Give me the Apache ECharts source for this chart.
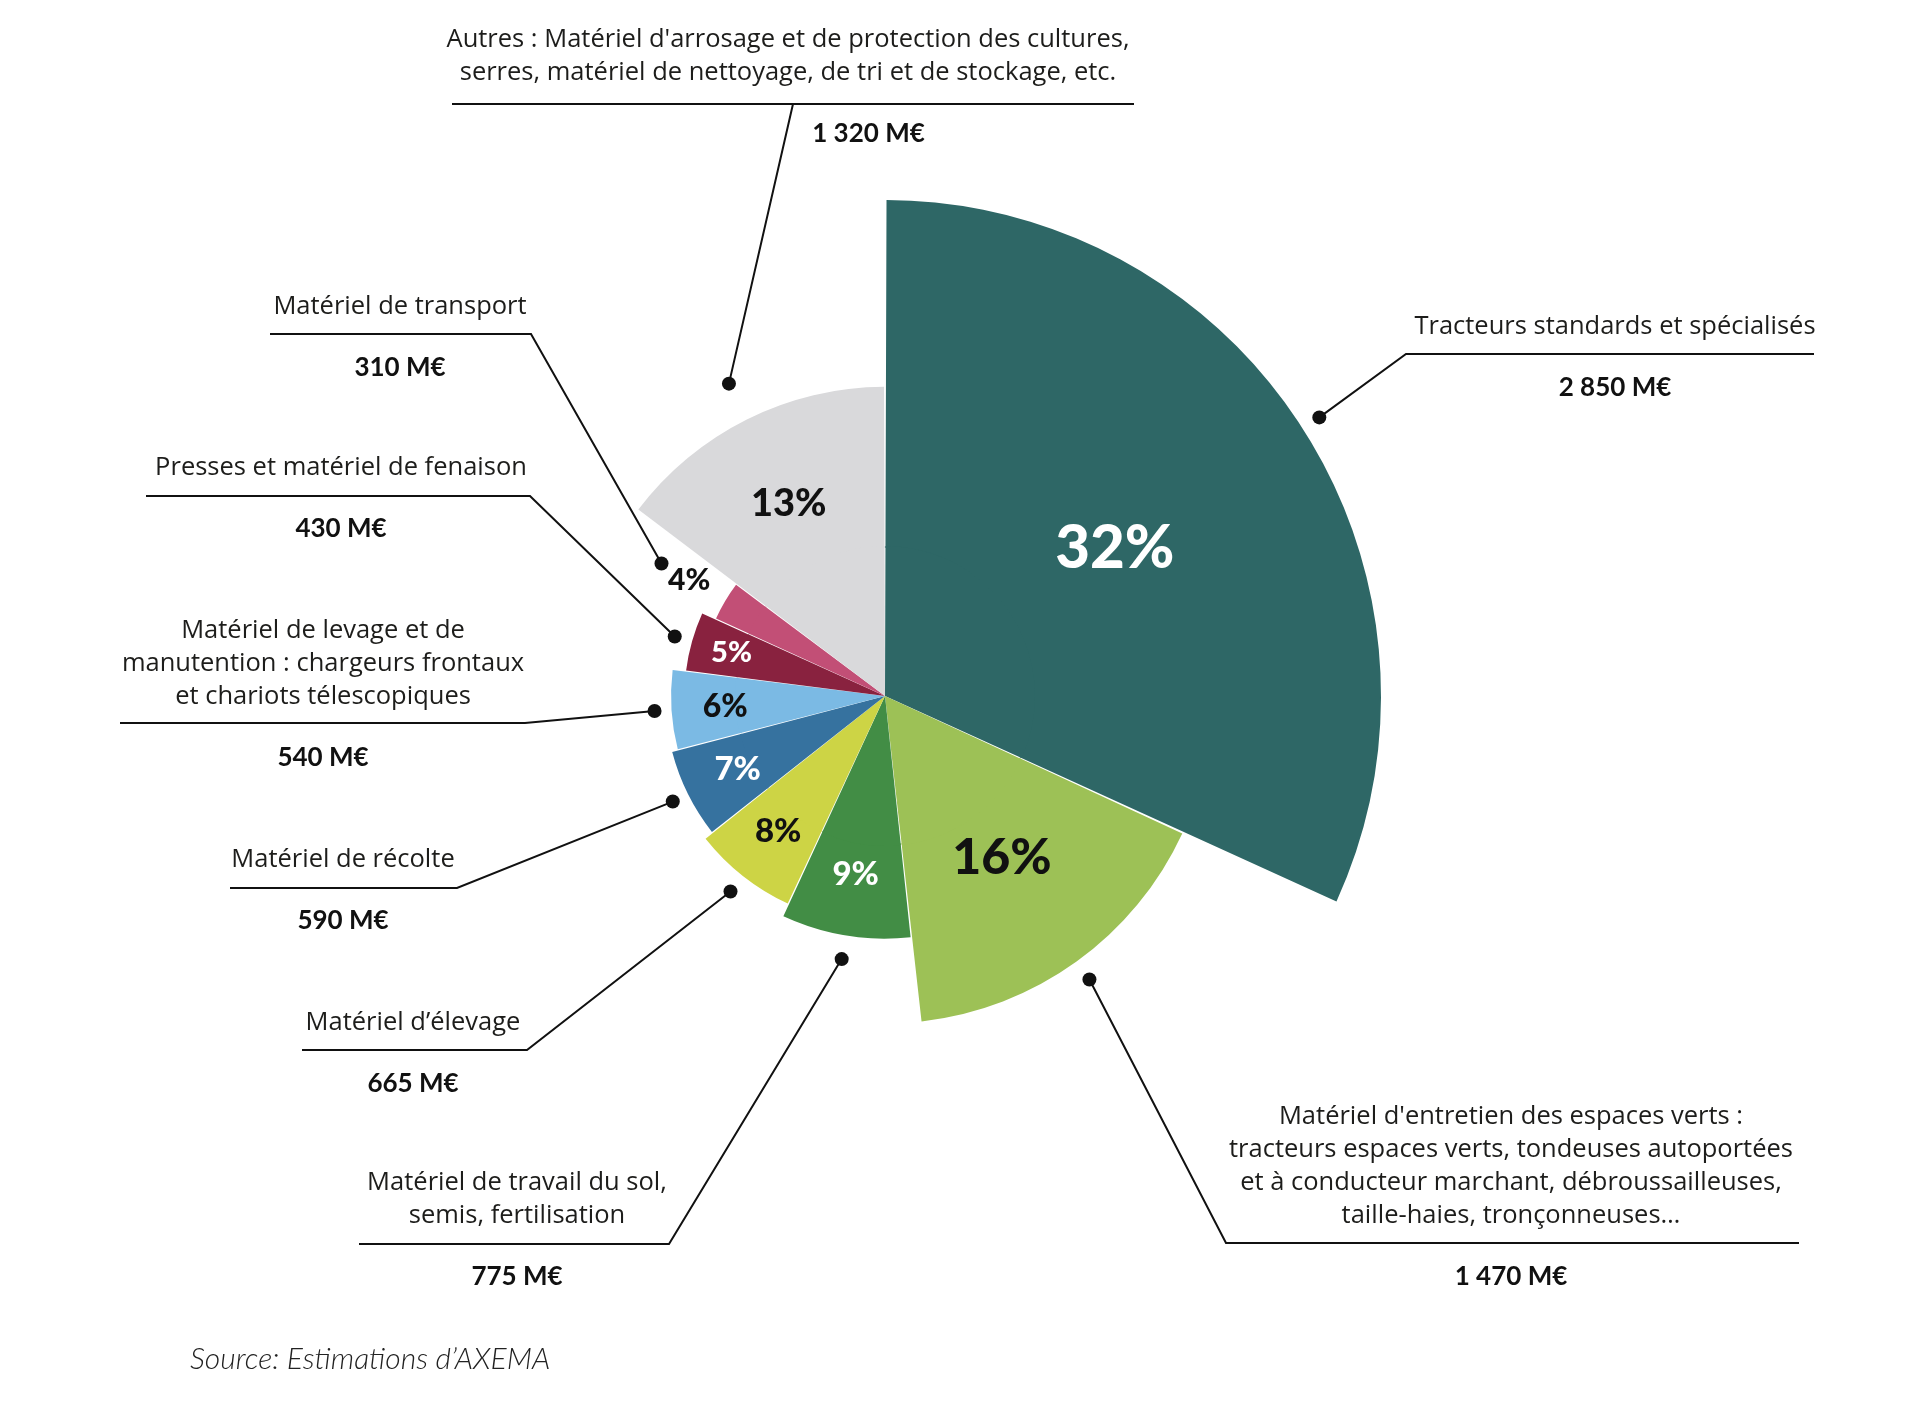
<!DOCTYPE html>
<html>
<head>
<meta charset="utf-8">
<title>Marché du machinisme agricole</title>
<script src="https://cdn.jsdelivr.net/npm/echarts@6/dist/echarts.min.js"></script>
<style>
html, body { margin: 0; padding: 0; background: #fff; }
#chart { width: 1918px; height: 1404px; }
</style>
</head>
<body>
<div id="chart"></div>
<script>
// segments clockwise from 12 o'clock, one entry per line of the caption
var categories = [
    ['Tracteurs standards et spécialisés'],
    ["Matériel d'entretien des espaces verts :", 'tracteurs espaces verts, tondeuses autoportées', 'et à conducteur marchant, débroussailleuses,', 'taille-haies, tronçonneuses…'],
    ['Matériel de travail du sol,', 'semis, fertilisation'],
    ['Matériel d’élevage'],
    ['Matériel de récolte'],
    ['Matériel de levage et de', 'manutention : chargeurs frontaux', 'et chariots télescopiques'],
    ['Presses et matériel de fenaison'],
    ['Matériel de transport'],
    ["Autres : Matériel d'arrosage et de protection des cultures,", 'serres, matériel de nettoyage, de tri et de stockage, etc.']
];
var values = [2850, 1470, 775, 665, 590, 540, 430, 310, 1320];   // M€
var shares = [32, 16, 9, 8, 7, 6, 5, 4, 13];                       // % as printed

// styling
var colors = ['#2e6766', '#9dc156', '#428d45', '#cdd445', '#36729f', '#7bbae4', '#89223f', '#c24f76', '#d9d9db'];
var shareColors = ['#fff', '#111', '#fff', '#111', '#fff', '#111', '#fff', '#111', '#111'];
var shareSizes = [60, 50, 33, 33, 33, 32, 29, 30, 38];
var shareShift = [0.84, 0.83, 0.91, 0.9, 0.88, 0.87, 0.9, 1.34, 0.93];
var dotGap = [20, 22, 24, 20, 17, 17, 18, 74, 40];
// caption boxes: centre x, first line centre y, underline y, underline ends, where the leader meets it
var labelBoxes = [
    { x: 1615, y: 327,  uy: 354,  ux: [1406, 1814], join: 1406 },
    { x: 1511, y: 1117, uy: 1243, ux: [1226, 1799], join: 1226 },
    { x: 517,  y: 1183, uy: 1244, ux: [359, 669],   join: 669 },
    { x: 413,  y: 1023, uy: 1050, ux: [302, 527],   join: 527 },
    { x: 343,  y: 860,  uy: 888,  ux: [230, 457],   join: 457 },
    { x: 323,  y: 631,  uy: 723,  ux: [120, 525],   join: 525 },
    { x: 341,  y: 468,  uy: 496,  ux: [146, 530],   join: 530 },
    { x: 400,  y: 307,  uy: 334,  ux: [270, 531],   join: 531 },
    { x: 788,  y: 40,   uy: 104,  ux: [452, 1134],  join: 793, valueKey: 'vr' }
];
var CENTER = [885, 696];
var R0 = 148, R = 496;
var LINE_H = 33;
var FONT = 'Lato, "Open Sans", sans-serif';
var TEXT_FONT = '"Open Sans", Lato, sans-serif';

function money(v) {
    var s = String(v);
    if (v >= 1000) s = Math.floor(v / 1000) + ' ' + String(v % 1000).padStart(3, '0');
    return s + ' M€';
}

// point pushed outward from the slice edge, along the slice's mid direction
function dotAt(edge, gap) {
    var dx = edge[0] - CENTER[0], dy = edge[1] - CENTER[1];
    var len = Math.sqrt(dx * dx + dy * dy) || 1;
    return [edge[0] + dx / len * gap, edge[1] + dy / len * gap];
}

var pieData = values.map(function (v, i) {
    return { value: v, name: categories[i].join(' '), itemStyle: { color: colors[i] } };
});
var pctData = values.map(function (v, i) {
    return {
        value: v, name: categories[i].join(' '),
        itemStyle: { color: colors[i] },
        label: { color: shareColors[i], fontSize: shareSizes[i] }
    };
});
var ghostData = values.map(function (v, i) {
    return { value: v, name: categories[i].join(' ') };
});

var common = {
    type: 'pie',
    center: CENTER,
    startAngle: 90,
    clockwise: true,
    padAngle: 0.35,
    avoidLabelOverlap: false,
    silent: true,
    emphasis: { disabled: true }
};

var myChart = echarts.init(document.getElementById('chart'));
option = {
    animation: false,
    backgroundColor: '#fff',
    title: {
        text: 'Source: Estimations d’AXEMA',
        left: 190,
        top: 1344,
        padding: 0,
        textStyle: { fontFamily: FONT, fontStyle: 'italic', fontWeight: 300, fontSize: 30, color: '#222' }
    },
    series: [
        // coloured rose ring, radius grows with value
        Object.assign({}, common, {
            roseType: 'radius',
            radius: [R0, R],
            data: pctData,
            label: {
                show: true,
                position: 'inside',
                fontFamily: FONT,
                fontWeight: 900,
                formatter: function (p) { return shares[p.dataIndex] + '%'; }
            },
            labelLine: { show: false },
            labelLayout: function (p) {
                var r = p.labelRect;
                var lx = r.x + r.width / 2, ly = r.y + r.height / 2;
                var k = shareShift[p.dataIndex];
                return {
                    x: CENTER[0] + (lx - CENTER[0]) * k,
                    y: CENTER[1] + (ly - CENTER[1]) * k,
                    align: 'center',
                    verticalAlign: 'middle'
                };
            }
        }),
        // fills the hole of the ring
        Object.assign({}, common, {
            radius: [0, R0 + 2],
            data: pieData,
            label: { show: false },
            labelLine: { show: false }
        }),
        // captions with leader lines
        Object.assign({}, common, {
            roseType: 'radius',
            radius: [R0, R],
            data: ghostData,
            itemStyle: { color: 'rgba(0,0,0,0)' },
            label: {
                show: true,
                position: 'outside',
                alignTo: 'none',
                overflow: 'none',
                formatter: function (p) {
                    var i = p.dataIndex;
                    var key = labelBoxes[i].valueKey || 'v';
                    var lines = categories[i].map(function (s) { return '{n|' + s + '}'; });
                    return lines.join('\n') + '\n{' + key + '|' + money(values[i]) + '}';
                },
                rich: {
                    n: { fontFamily: TEXT_FONT, fontSize: 25.5, color: '#1d1d1b', lineHeight: LINE_H, align: 'center' },
                    v: { fontFamily: FONT, fontSize: 26, fontWeight: 'bold', color: '#111', lineHeight: 88, align: 'center' },
                    vr: { fontFamily: FONT, fontSize: 26, fontWeight: 'bold', color: '#111', lineHeight: 88, align: 'center', padding: [0, 0, 0, 161] }
                }
            },
            labelLine: { show: true, length: 10, length2: 10, lineStyle: { color: '#111', width: 2 } },
            labelLayout: function (p) {
                var b = labelBoxes[p.dataIndex];
                var dot = dotAt(p.labelLinePoints[0], dotGap[p.dataIndex]);
                return {
                    x: b.x,
                    y: b.y - LINE_H / 2,
                    align: 'center',
                    verticalAlign: 'top',
                    labelLinePoints: [dot, [b.join, b.uy], [b.ux[0], b.uy], [b.ux[1], b.uy]]
                };
            }
        }),
        // leader dots
        Object.assign({}, common, {
            roseType: 'radius',
            radius: [R0, R],
            data: ghostData,
            itemStyle: { color: 'rgba(0,0,0,0)' },
            label: {
                show: true,
                position: 'outside',
                formatter: '{d| }',
                rich: { d: { width: 14, height: 14, lineHeight: 14, fontSize: 1, borderRadius: 7, backgroundColor: '#111' } }
            },
            labelLine: { show: true, length: 10, length2: 0, lineStyle: { opacity: 0 } },
            labelLayout: function (p) {
                var dot = dotAt(p.labelLinePoints[0], dotGap[p.dataIndex]);
                return {
                    x: dot[0], y: dot[1], align: 'center', verticalAlign: 'middle',
                    labelLinePoints: [dot, dot, dot]
                };
            }
        })
    ]
};
myChart.setOption(option);
</script>
</body>
</html>
